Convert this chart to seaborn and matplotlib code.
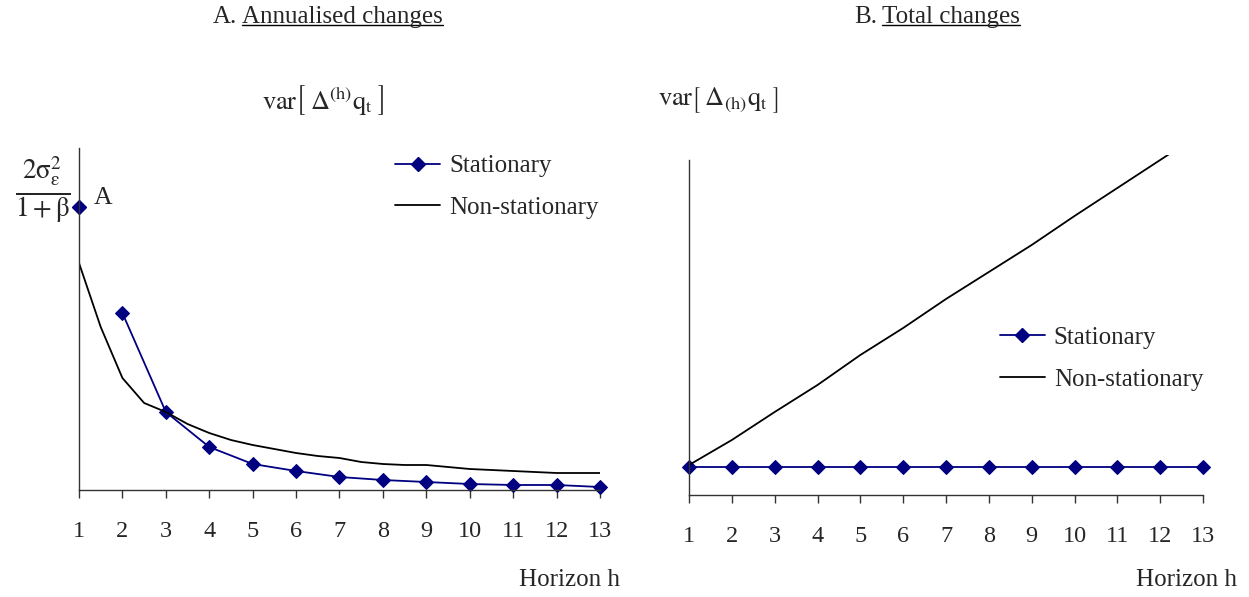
import numpy as np
import pandas as pd
import matplotlib
matplotlib.use("Agg")
import matplotlib.pyplot as plt
from matplotlib.lines import Line2D
import seaborn as sns

# ---- data (arbitrary units) ----
horizons = [1, 2, 3, 4, 5, 6, 7, 8, 9, 10, 11, 12, 13]
tick_labels = [str(h) for h in horizons]

# Panel A: annualised changes
stat_annual = [283, 177, 78, 43, 26, 19, 13, 10, 8, 6, 5, 5, 3]
nonstat_annual_h = [1, 1.5, 2, 2.5, 3, 3.5, 4, 4.5, 5, 5.5, 6, 6.5, 7, 7.5,
                    8, 8.5, 9, 9.5, 10, 10.5, 11, 11.5, 12, 12.5, 13]
nonstat_annual = [227, 163, 112, 87, 78, 66, 57, 50, 45, 41, 37, 34, 32, 28,
                  26, 25, 25, 23, 21, 20, 19, 18, 17, 17, 17]

# Panel B: total changes
stat_total = [28, 28, 28, 28, 28, 28, 28, 28, 28, 28, 28, 28, 28]
nonstat_total = [30, 55, 83, 110, 140, 167, 196, 223, 250, 279, 307, 335, 363]

series_labels = ["Stationary", "Non-stationary"]
titles = [("A.", "Annualised changes"), ("B.", "Total changes")]

NAVY = "#000080"

sns.set_theme(style="white")
plt.rcParams["font.family"] = ["Liberation Serif", "DejaVu Serif"]
plt.rcParams["mathtext.fontset"] = "stix"

fig = plt.figure(figsize=(12.49, 5.97), dpi=100)
W, H = 1249, 597

def px_axes(x0, x1, ytop, ybot):
    return fig.add_axes([x0 / W, (H - ybot) / H, (x1 - x0) / W, (ybot - ytop) / H])

axA = px_axes(79, 600, 148, 490)
axB = px_axes(689, 1203, 155, 495)

FS = 17.5

def style_axes(ax, ymax, spine_top):
    ax.set_xlim(1, 13)
    ax.set_ylim(0, ymax)
    for s in ["top", "right"]:
        ax.spines[s].set_visible(False)
    for s in ["left", "bottom"]:
        ax.spines[s].set_color("#333333")
        ax.spines[s].set_linewidth(1.0)
    ax.spines["left"].set_bounds(0, spine_top)
    ax.set_xticks(horizons)
    ax.set_xticklabels(tick_labels, fontsize=FS)
    ax.set_yticks([])
    ax.tick_params(axis="x", direction="out", length=6, width=1.0,
                   color="#333333", pad=16, bottom=True)
    ax.set_xlabel("")
    ax.set_ylabel("")
    ax.set_facecolor("white")

# ---- Panel A ----
dfA_s = pd.DataFrame({"h": horizons[1:], "v": stat_annual[1:]})
dfA_n = pd.DataFrame({"h": nonstat_annual_h, "v": nonstat_annual})
sns.lineplot(data=dfA_s, x="h", y="v", ax=axA, color=NAVY, lw=1.3,
             marker="D", markersize=7, markeredgecolor=NAVY, clip_on=False)
sns.lineplot(data=dfA_n, x="h", y="v", ax=axA, color="black", lw=1.3)
axA.plot([horizons[0]], [stat_annual[0]], ls="none", marker="D", markersize=7,
         color=NAVY, markeredgecolor=NAVY, clip_on=False)
style_axes(axA, 342, 342)

# ---- Panel B ----
dfB_s = pd.DataFrame({"h": horizons, "v": stat_total})
dfB_n = pd.DataFrame({"h": horizons, "v": nonstat_total})
sns.lineplot(data=dfB_s, x="h", y="v", ax=axB, color=NAVY, lw=1.3,
             marker="D", markersize=7, markeredgecolor=NAVY, clip_on=False)
sns.lineplot(data=dfB_n, x="h", y="v", ax=axB, color="black", lw=1.3)
style_axes(axB, 340, 335)

# ---- legends ----
handles = [Line2D([], [], color=NAVY, lw=1.3, marker="D", markersize=7),
           Line2D([], [], color="black", lw=1.3)]
for ax, anchor in [(axA, (0.607, 0.98)), (axB, (0.605, 0.495))]:
    ax.legend(handles, series_labels, loc="upper left", bbox_to_anchor=anchor,
              frameon=False, fontsize=FS + 0.5, handlelength=1.8,
              handletextpad=0.35, labelspacing=0.76, borderpad=0,
              borderaxespad=0)

# ---- text annotations ----
fig.text(43 / W, 1 - 190 / H,
         r"$\frac{2\mathrm{\sigma}_{\mathrm{\varepsilon}}^{2}}{1+\mathrm{\beta}}$",
         fontsize=28, ha="center", va="center")
fig.text(94 / W, 1 - 198 / H, "A", fontsize=FS + 1, ha="left", va="center")

fig.text(323 / W, 1 - 100 / H,
         r"$\mathrm{var}\left[\;\Delta^{(\mathrm{h})}\mathrm{q}_{\mathrm{t}}\;\right]$",
         fontsize=19, ha="center", va="center")
fig.text(718 / W, 1 - 100 / H,
         r"$\mathrm{var}\left[\;\Delta_{(\mathrm{h})}\mathrm{q}_{\mathrm{t}}\;\right]$",
         fontsize=19, ha="center", va="center")

fig.text(620 / W, 1 - 580 / H, "Horizon h", fontsize=FS + 0.5, ha="right", va="center")
fig.text(1237 / W, 1 - 580 / H, "Horizon h", fontsize=FS + 0.5, ha="right", va="center")

# titles with underlined part
renderer = fig.canvas.get_renderer()
for (prefix, main), x_main in zip(titles, [242, 882]):
    fig.text((x_main - 5) / W, 1 - 17 / H, prefix, fontsize=FS + 0.5,
             ha="right", va="center")
    t2 = fig.text(x_main / W, 1 - 17 / H, main, fontsize=FS + 0.5,
                  ha="left", va="center")
    bb2 = t2.get_window_extent(renderer)
    yline = bb2.y0 + 3
    fig.add_artist(Line2D([bb2.x0 / W, bb2.x1 / W], [yline / H, yline / H],
                          color="black", lw=1.0, transform=fig.transFigure))

fig.savefig("out.png", dpi=100, facecolor="white")
